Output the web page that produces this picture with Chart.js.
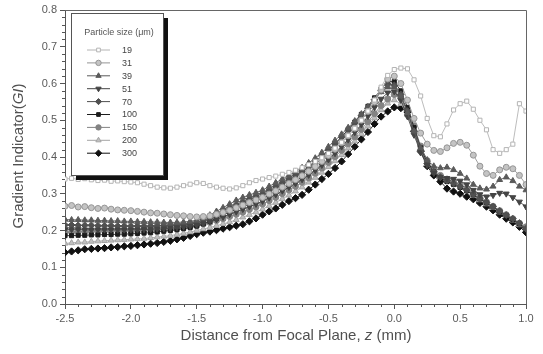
<!DOCTYPE html>
<html>
<head>
<meta charset="utf-8">
<script src="https://cdn.jsdelivr.net/npm/chart.js@4.4.0/dist/chart.umd.min.js"></script>
<style>
  body { margin: 0; background: #fff; }
</style>
</head>
<body>
<canvas id="giChart" width="543" height="354"></canvas>
<script>
// distance from focal plane z (mm)
const zPos = [-2.50,-2.45,-2.40,-2.35,-2.30,-2.25,-2.20,-2.15,-2.10,-2.05,
  -2.00,-1.95,-1.90,-1.85,-1.80,-1.75,-1.70,-1.65,-1.60,-1.55,
  -1.50,-1.45,-1.40,-1.35,-1.30,-1.25,-1.20,-1.15,-1.10,-1.05,
  -1.00,-0.95,-0.90,-0.85,-0.80,-0.75,-0.70,-0.65,-0.60,-0.55,
  -0.50,-0.45,-0.40,-0.35,-0.30,-0.25,-0.20,-0.15,-0.10,-0.05,
  0.00,0.05,0.10,0.15,0.20,0.25,0.30,0.35,0.40,0.45,
  0.50,0.55,0.60,0.65,0.70,0.75,0.80,0.85,0.90,0.95,1.00];

const sizes = ['19','31','39','51','70','100','150','200','300'];

const gi19 = [0.340,0.342,0.339,0.341,0.338,0.336,0.337,0.334,0.335,0.333,
  0.332,0.330,0.326,0.322,0.318,0.316,0.315,0.318,0.322,0.326,
  0.330,0.328,0.322,0.318,0.315,0.313,0.316,0.322,0.330,0.336,
  0.340,0.344,0.348,0.353,0.358,0.364,0.371,0.379,0.388,0.398,
  0.410,0.424,0.440,0.458,0.478,0.500,0.525,0.555,0.590,0.622,
  0.638,0.642,0.640,0.610,0.566,0.505,0.458,0.455,0.490,0.528,
  0.545,0.552,0.530,0.500,0.474,0.420,0.410,0.420,0.435,0.545,0.525];
const gi31 = [0.266,0.268,0.264,0.265,0.262,0.260,0.261,0.258,0.256,0.255,
  0.254,0.252,0.250,0.248,0.247,0.245,0.243,0.241,0.240,0.238,
  0.237,0.238,0.240,0.244,0.249,0.255,0.262,0.269,0.276,0.283,
  0.290,0.299,0.308,0.318,0.328,0.338,0.349,0.361,0.374,0.388,
  0.404,0.421,0.439,0.458,0.478,0.500,0.524,0.550,0.582,0.612,
  0.620,0.600,0.555,0.505,0.465,0.435,0.418,0.415,0.425,0.437,
  0.440,0.432,0.405,0.375,0.355,0.350,0.365,0.372,0.368,0.350,0.325];
const gi39 = [0.230,0.229,0.229,0.228,0.228,0.227,0.227,0.226,0.226,0.225,
  0.225,0.224,0.224,0.223,0.223,0.222,0.222,0.222,0.223,0.225,
  0.228,0.234,0.242,0.252,0.262,0.272,0.282,0.290,0.297,0.303,
  0.310,0.320,0.330,0.340,0.350,0.360,0.371,0.384,0.397,0.412,
  0.428,0.445,0.462,0.480,0.498,0.517,0.537,0.557,0.577,0.590,
  0.590,0.565,0.520,0.470,0.425,0.392,0.375,0.370,0.372,0.365,
  0.355,0.342,0.325,0.315,0.312,0.320,0.338,0.345,0.335,0.320,0.310];
const gi51 = [0.203,0.203,0.203,0.202,0.202,0.202,0.202,0.202,0.202,0.202,
  0.202,0.202,0.203,0.203,0.204,0.205,0.206,0.208,0.210,0.212,
  0.215,0.219,0.224,0.230,0.237,0.244,0.251,0.258,0.265,0.272,
  0.280,0.289,0.298,0.308,0.318,0.328,0.339,0.351,0.364,0.378,
  0.393,0.410,0.428,0.447,0.467,0.488,0.511,0.535,0.558,0.575,
  0.578,0.555,0.510,0.460,0.412,0.378,0.356,0.345,0.342,0.340,
  0.335,0.325,0.310,0.298,0.292,0.296,0.302,0.300,0.290,0.278,0.265];
const gi70 = [0.215,0.215,0.214,0.214,0.214,0.213,0.213,0.213,0.212,0.212,
  0.212,0.212,0.212,0.212,0.213,0.213,0.214,0.215,0.217,0.219,
  0.222,0.228,0.235,0.243,0.252,0.261,0.270,0.278,0.286,0.293,
  0.300,0.310,0.320,0.330,0.340,0.350,0.361,0.374,0.388,0.403,
  0.419,0.436,0.454,0.473,0.492,0.512,0.533,0.556,0.580,0.598,
  0.595,0.570,0.525,0.470,0.418,0.382,0.360,0.345,0.336,0.328,
  0.320,0.310,0.298,0.287,0.276,0.265,0.253,0.242,0.232,0.220,0.205];
const gi100 = [0.186,0.186,0.187,0.187,0.188,0.188,0.189,0.189,0.190,0.190,
  0.191,0.192,0.193,0.194,0.196,0.198,0.200,0.202,0.205,0.208,
  0.212,0.218,0.225,0.233,0.242,0.251,0.260,0.269,0.278,0.286,
  0.295,0.305,0.316,0.327,0.337,0.348,0.359,0.372,0.386,0.401,
  0.418,0.436,0.455,0.475,0.495,0.516,0.538,0.561,0.585,0.605,
  0.605,0.580,0.535,0.480,0.425,0.385,0.360,0.343,0.333,0.325,
  0.317,0.308,0.297,0.286,0.275,0.264,0.252,0.241,0.230,0.218,0.200];
const gi150 = [0.195,0.196,0.197,0.197,0.198,0.198,0.199,0.199,0.200,0.200,
  0.200,0.200,0.201,0.201,0.202,0.203,0.204,0.206,0.208,0.211,
  0.214,0.218,0.222,0.227,0.232,0.238,0.244,0.250,0.257,0.264,
  0.272,0.281,0.290,0.300,0.310,0.320,0.331,0.343,0.356,0.370,
  0.385,0.401,0.418,0.436,0.455,0.475,0.496,0.518,0.540,0.558,
  0.570,0.560,0.530,0.485,0.430,0.390,0.365,0.350,0.340,0.333,
  0.325,0.315,0.302,0.290,0.278,0.266,0.254,0.243,0.232,0.220,0.210];
const gi200 = [0.165,0.166,0.168,0.168,0.170,0.171,0.172,0.173,0.174,0.175,
  0.176,0.177,0.178,0.180,0.182,0.184,0.186,0.189,0.192,0.196,
  0.200,0.204,0.208,0.213,0.218,0.223,0.229,0.236,0.243,0.250,
  0.258,0.267,0.276,0.286,0.296,0.307,0.318,0.331,0.344,0.358,
  0.373,0.389,0.406,0.424,0.443,0.463,0.484,0.506,0.528,0.546,
  0.555,0.545,0.515,0.470,0.420,0.382,0.360,0.345,0.335,0.327,
  0.318,0.308,0.295,0.283,0.272,0.262,0.250,0.240,0.228,0.215,0.205];
const gi300 = [0.140,0.143,0.146,0.149,0.150,0.151,0.152,0.154,0.155,0.157,
  0.158,0.160,0.162,0.164,0.166,0.169,0.172,0.176,0.180,0.185,
  0.190,0.194,0.197,0.201,0.205,0.209,0.213,0.217,0.225,0.233,
  0.243,0.252,0.260,0.270,0.280,0.288,0.297,0.311,0.325,0.340,
  0.354,0.370,0.388,0.408,0.428,0.448,0.468,0.490,0.510,0.524,
  0.535,0.533,0.522,0.470,0.415,0.375,0.350,0.333,0.314,0.306,
  0.300,0.292,0.285,0.275,0.265,0.255,0.243,0.232,0.222,0.210,0.195];

const xTicks = [-2.5,-2.0,-1.5,-1.0,-0.5,0.0,0.5,1.0];
const yTicks = [0.0,0.1,0.2,0.3,0.4,0.5,0.6,0.7,0.8];

const FONT = '"Liberation Sans", Arial, sans-serif';

function series(label, vals, color, fill, style, rot, r) {
  return {
    label: label,
    data: zPos.map((z, i) => ({ x: z, y: vals[i] })),
    borderColor: color,
    backgroundColor: fill,
    borderWidth: 0.9,
    pointStyle: style,
    pointRotation: rot,
    pointRadius: r,
    pointBorderWidth: 1,
    pointBorderColor: color,
    pointBackgroundColor: fill,
    tension: 0
  };
}

const datasets = [
  series(sizes[0], gi19, '#b4b4b4', '#ffffff', 'rect', 0, 2.9),
  series(sizes[1], gi31, '#959595', '#c4c4c4', 'circle', 0, 3),
  series(sizes[2], gi39, '#5a5a5a', '#5a5a5a', 'triangle', 0, 3.4),
  series(sizes[3], gi51, '#444444', '#444444', 'triangle', 180, 3.4),
  series(sizes[4], gi70, '#505050', '#505050', 'rectRot', 0, 3.4),
  series(sizes[5], gi100, '#1c1c1c', '#1c1c1c', 'rect', 0, 2.9),
  series(sizes[6], gi150, '#838383', '#838383', 'circle', 0, 3),
  series(sizes[7], gi200, '#a4a4a4', '#c0c0c0', 'triangle', 0, 3.4),
  series(sizes[8], gi300, '#111111', '#111111', 'rectRot', 0, 3.6)
];

function marker(ctx, ds, x, y) {
  ctx.save();
  ctx.fillStyle = ds.pointBackgroundColor;
  ctx.strokeStyle = ds.pointBorderColor;
  ctx.lineWidth = 1;
  if (Chart.helpers && Chart.helpers.drawPoint) {
    Chart.helpers.drawPoint(ctx, { pointStyle: ds.pointStyle, rotation: ds.pointRotation, radius: ds.pointRadius * 0.9, borderWidth: 1 }, x, y);
  } else {
    ctx.beginPath();
    ctx.arc(x, y, ds.pointRadius, 0, Math.PI * 2);
    ctx.fill();
    ctx.stroke();
  }
  ctx.restore();
}

const decor = {
  id: 'decor',
  afterDraw(chart) {
    const ctx = chart.ctx;
    const a = chart.chartArea;
    const xs = chart.scales.x, ys = chart.scales.y;
    ctx.save();
    // frame top + right
    ctx.strokeStyle = '#666';
    ctx.lineWidth = 1;
    ctx.beginPath();
    ctx.moveTo(a.left, a.top + 0.5);
    ctx.lineTo(a.right + 0.5, a.top + 0.5);
    ctx.lineTo(a.right + 0.5, a.bottom);
    ctx.stroke();
    // minor ticks
    ctx.strokeStyle = '#555';
    ctx.beginPath();
    for (let k = 0; k <= 35; k++) {
      if (k % 5 === 0) continue;
      const px = Math.round(xs.getPixelForValue(-2.5 + k * 0.1)) + 0.5;
      ctx.moveTo(px, a.bottom);
      ctx.lineTo(px, a.bottom + 3);
    }
    for (let k = 0; k <= 40; k++) {
      if (k % 5 === 0) continue;
      const py = Math.round(ys.getPixelForValue(k * 0.02)) + 0.5;
      ctx.moveTo(a.left, py);
      ctx.lineTo(a.left - 3, py);
    }
    ctx.stroke();

    // axis titles with italic parts
    function mixed(parts, cx, cy) {
      let w = 0;
      parts.forEach(p => { ctx.font = (p[1] ? 'italic ' : '') + '15px ' + FONT; w += ctx.measureText(p[0]).width; });
      let x = cx - w / 2;
      ctx.fillStyle = '#505050';
      ctx.textBaseline = 'middle';
      ctx.textAlign = 'left';
      parts.forEach(p => {
        ctx.font = (p[1] ? 'italic ' : '') + '15px ' + FONT;
        ctx.fillText(p[0], x, cy);
        x += ctx.measureText(p[0]).width;
      });
    }
    mixed([['Distance from Focal Plane, ', false], ['z', true], [' (mm)', false]], 296, 336);
    ctx.save();
    ctx.translate(19, 156);
    ctx.rotate(-Math.PI / 2);
    mixed([['Gradient Indicator(', false], ['GI', true], [')', false]], 0, 0);
    ctx.restore();

    // legend box with shadow
    const bx = 71, by = 13, bw = 92, bh = 162;
    ctx.fillStyle = '#111';
    ctx.fillRect(bx + 5, by + 5, bw, bh);
    ctx.fillStyle = '#fff';
    ctx.fillRect(bx, by, bw, bh);
    ctx.strokeStyle = '#555';
    ctx.strokeRect(bx + 0.5, by + 0.5, bw, bh);
    ctx.fillStyle = '#555';
    ctx.font = '9px ' + FONT;
    ctx.textAlign = 'center';
    ctx.textBaseline = 'middle';
    ctx.fillText('Particle size (\u03bcm)', bx + bw / 2 + 2, 33);
    ctx.textAlign = 'left';
    ctx.font = '9px ' + FONT;
    chart.data.datasets.forEach((ds, i) => {
      const y = 50 + i * 12.9;
      ctx.strokeStyle = ds.borderColor;
      ctx.lineWidth = 1;
      ctx.beginPath();
      ctx.moveTo(87, y);
      ctx.lineTo(110, y);
      ctx.stroke();
      marker(ctx, ds, 98.5, y);
      ctx.fillStyle = '#444';
      ctx.fillText(ds.label, 122, y + 0.5);
    });
    ctx.restore();
  }
};

new Chart(document.getElementById('giChart'), {
  type: 'line',
  data: { datasets: datasets },
  options: {
    responsive: false,
    animation: false,
    layout: { padding: { top: 10, right: 17, left: 0, bottom: 0 } },
    plugins: {
      legend: { display: false },
      tooltip: { enabled: false }
    },
    scales: {
      x: {
        type: 'linear',
        min: -2.5,
        max: 1.0,
        afterBuildTicks: s => { s.ticks = xTicks.map(v => ({ value: v })); },
        afterFit: s => { s.height = 50; },
        ticks: {
          callback: v => v.toFixed(1),
          color: '#5a5a5a',
          font: { family: FONT, size: 11 },
          padding: 3,
          maxRotation: 0
        },
        grid: { drawOnChartArea: false, tickLength: 5, color: '#555' },
        border: { color: '#555' }
      },
      y: {
        min: 0,
        max: 0.8,
        afterBuildTicks: s => { s.ticks = yTicks.map(v => ({ value: v })); },
        afterFit: s => { s.width = 65; },
        ticks: {
          callback: v => v.toFixed(1),
          color: '#5a5a5a',
          font: { family: FONT, size: 11 },
          padding: 3
        },
        grid: { drawOnChartArea: false, tickLength: 5, color: '#555' },
        border: { color: '#555' }
      }
    }
  },
  plugins: [decor]
});
</script>
</body>
</html>
